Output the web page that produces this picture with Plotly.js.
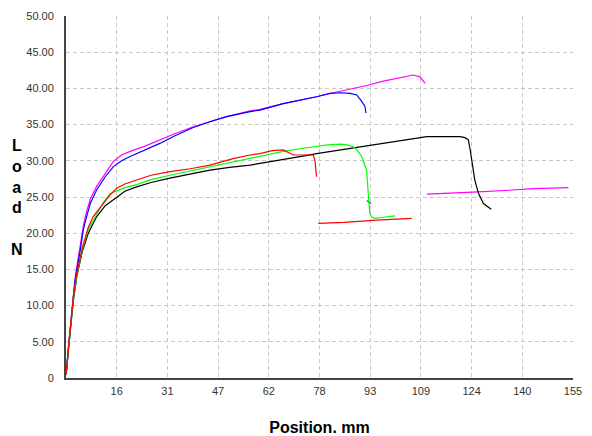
<!DOCTYPE html>
<html>
<head>
<meta charset="utf-8">
<script src="https://cdn.plot.ly/plotly-3.0.1.min.js"></script>
<style>html,body{margin:0;padding:0;background:#fff;}#chart{width:592px;height:436px;}</style>
</head>
<body>
<div id="chart"></div>
<script>
// Tick values and labels
const xTickVals = [15.5, 31, 46.5, 62, 77.5, 93, 108.5, 124, 139.5, 155];
const xTickText = ["16", "31", "47", "62", "78", "93", "109", "124", "140", "155"];
const yTickVals = [0, 5, 10, 15, 20, 25, 30, 35, 40, 45, 50];
const yTickText = ["0", "5.00", "10.00", "15.00", "20.00", "25.00", "30.00", "35.00", "40.00", "45.00", "50.00"];

// Series: pink (magenta)
const pinkX = [0, 0.3, 0.7, 1.2, 2.2, 3.0, 4.3, 5.3, 6.3, 7.5, 9.4, 12, 14.5, 17, 19.6, 24, 28.7, 33, 38.9, 44, 49.1, 56.3, 59.3, 66.4, 72, 76.6, 80.7, 86.8, 92, 97, 102, 106.2, 108.2, 109.8, null, 110.3, 118, 126, 134, 143, 153.6];
const pinkY = [0.5, 1.5, 4, 6.8, 11.2, 14.5, 18.0, 21.0, 23.0, 24.8, 26.5, 28.3, 29.9, 30.8, 31.3, 32.0, 32.9, 33.7, 34.7, 35.4, 36.1, 36.9, 37.1, 37.9, 38.4, 38.85, 39.3, 39.9, 40.4, 41.0, 41.5, 41.85, 41.6, 40.7, null, 25.4, 25.5, 25.7, 25.9, 26.15, 26.3];

// Series: blue
const blueX = [0, 0.2, 0.6, 1.2, 2.2, 2.75, 4.3, 5.3, 6.3, 7.5, 9.4, 12, 14.5, 17, 19.6, 24, 28.7, 33, 38.9, 44, 49.1, 56.3, 59.3, 66.4, 72, 76.6, 80.7, 84, 86.8, 88.9, 90.4, 91.4, 91.7, null, 92.0, 93.2];
const blueY = [0.5, 1.0, 3.5, 6.2, 10.8, 13.5, 17.5, 20.5, 22.3, 24.2, 26.0, 27.8, 29.2, 30.0, 30.6, 31.5, 32.4, 33.4, 34.6, 35.4, 36.1, 36.8, 37.0, 37.9, 38.4, 38.85, 39.3, 39.4, 39.3, 39.1, 38.2, 37.5, 36.6, null, 24.5, 24.1];

// Series: black
const blackX = [0, 0.5, 1.2, 2.2, 3.3, 5, 6.8, 9.4, 12, 14.4, 15.5, 18, 21.6, 26, 31.8, 38, 44, 50, 56.3, 59.3, 66, 72, 76.6, 86.8, 97, 107.2, 110.3, 115, 120.5, 122, 123, 123.5, 124, 125, 126.1, 127.6, 130];
const blackY = [0.5, 3, 6.2, 10.5, 14, 17.5, 20, 22.3, 23.8, 24.6, 25.0, 25.8, 26.4, 27.0, 27.6, 28.2, 28.7, 29.1, 29.4, 29.65, 30.1, 30.6, 31.0, 31.7, 32.4, 33.1, 33.35, 33.35, 33.35, 33.2, 32.9, 31.7, 30.1, 27.3, 25.5, 24.1, 23.3];

// Series: green
const greenX = [0, 0.5, 1.2, 2.2, 3.3, 5, 6.8, 9.4, 11.5, 13.5, 16, 18, 21.6, 26, 31.8, 38, 44, 50, 56.3, 59.3, 66.4, 72, 76.6, 80, 83.8, 86, 87.8, 89, 90.4, 91.9, 92.4, 92.9, 93.5, 94.5, 97, 100.6];
const greenY = [0.5, 3, 6.3, 10.8, 14.2, 17.8, 20.5, 22.7, 24.3, 25.5, 26.0, 26.3, 26.7, 27.4, 28.0, 28.6, 29.2, 29.8, 30.4, 30.6, 31.3, 31.7, 32.0, 32.2, 32.3, 32.2, 31.95, 31.5, 30.6, 28.7, 25.5, 22.75, 22.2, 22.05, 22.2, 22.4];

// Series: red
const redX = [0, 0.5, 1.2, 2.2, 3.3, 5, 6.8, 8.3, 11.4, 13.5, 15.5, 18, 21.6, 26, 31.8, 38, 44, 51.1, 56.3, 59.3, 63, 66.4, 69.5, 72, 75.6, 76.1, 76.6, null, 77.1, 85, 95, 105.7];
const redY = [0.5, 3, 6.5, 11, 14.5, 18, 20.8, 22.3, 24.1, 25.3, 26.2, 26.8, 27.35, 28.0, 28.5, 28.9, 29.4, 30.3, 30.8, 31.0, 31.4, 31.5, 30.8, 30.8, 30.8, 30.1, 27.8, null, 21.35, 21.5, 21.8, 22.05];

const series = [
  {x: pinkX, y: pinkY, color: '#ff00ff'},
  {x: blueX, y: blueY, color: '#0000ff'},
  {x: blackX, y: blackY, color: '#000000'},
  {x: greenX, y: greenY, color: '#00ff00'},
  {x: redX, y: redY, color: '#ff0000'}
];

const traces = series.map(s => ({
  x: s.x, y: s.y, type: 'scatter', mode: 'lines',
  connectgaps: false,
  line: {color: s.color, width: 1.2},
  hoverinfo: 'skip', showlegend: false
}));

const font = 'Arial, "Liberation Sans", sans-serif';

const layout = {
  width: 592, height: 436,
  margin: {l: 66, r: 19, t: 16, b: 58},
  paper_bgcolor: '#ffffff', plot_bgcolor: '#ffffff',
  font: {family: font, size: 11, color: '#333333'},
  showlegend: false,
  xaxis: {
    range: [0, 155], tickmode: 'array', tickvals: xTickVals, ticktext: xTickText,
    showgrid: true, gridcolor: '#c8c8c8', griddash: '4px,3px', gridwidth: 1,
    showline: true, linecolor: '#444444', linewidth: 2,
    zeroline: false, ticks: '', ticklabelstandoff: 2,
    tickfont: {family: font, size: 11, color: '#333333'},
    title: {text: 'Position. mm', font: {family: font, size: 16, color: '#000000', weight: 'bold'}, standoff: 26}
  },
  yaxis: {
    range: [0, 50], tickmode: 'array', tickvals: yTickVals, ticktext: yTickText,
    showgrid: true, gridcolor: '#c8c8c8', griddash: '4px,3px', gridwidth: 1,
    showline: true, linecolor: '#444444', linewidth: 2,
    zeroline: false, ticks: '', ticklabelstandoff: 8,
    tickfont: {family: font, size: 11, color: '#333333'}
  },
  annotations: [{
    text: 'L<br>o<br>a<br>d<br><br>N', xref: 'paper', yref: 'paper',
    x: 0, y: 0.5, xanchor: 'center', yanchor: 'middle', xshift: -49, yshift: 0,
    showarrow: false, align: 'center',
    font: {family: font, size: 16, color: '#000000', weight: 'bold'}
  }]
};

Plotly.newPlot('chart', traces, layout, {staticPlot: true, displayModeBar: false});
</script>
</body>
</html>
